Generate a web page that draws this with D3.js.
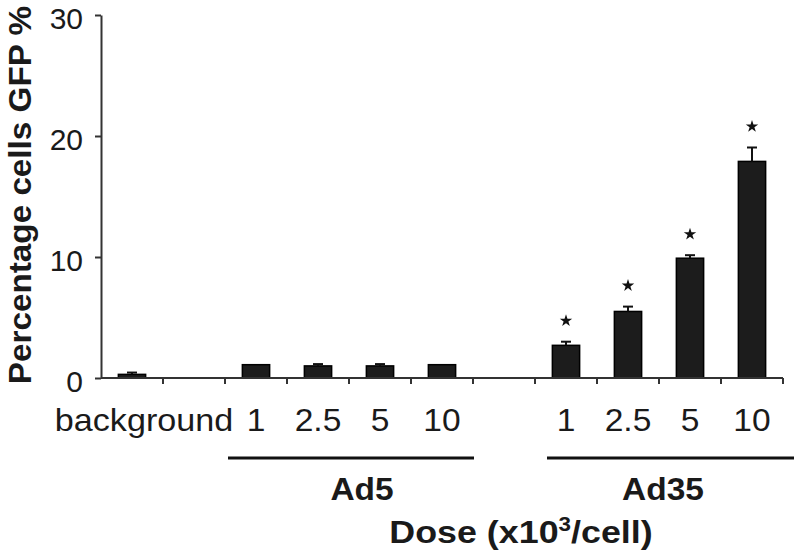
<!DOCTYPE html>
<html>
<head>
<meta charset="utf-8">
<script src="https://cdn.jsdelivr.net/npm/d3@7"></script>
<style>
  body { margin: 0; background: #fff; }
  text { font-family: "Liberation Sans", Arial, Helvetica, sans-serif; fill: #1a1a1a; }
</style>
</head>
<body>
<svg id="chart" width="794" height="554"></svg>
<script>
// slots along the x axis (empty slots separate the groups)
var slots = ["background", "gap1", "Ad5-1", "Ad5-2.5", "Ad5-5", "Ad5-10", "gap2", "Ad35-1", "Ad35-2.5", "Ad35-5", "Ad35-10"];
var slotLabels = ["background", "", "1", "2.5", "5", "10", "", "1", "2.5", "5", "10"];
var values = [0.3, null, 1.1, 1.0, 1.0, 1.1, null, 2.7, 5.5, 9.9, 17.9];
var errors = [0.15, null, 0, 0.15, 0.15, 0, null, 0.3, 0.4, 0.25, 1.15];
var significant = [false, false, false, false, false, false, false, true, true, true, true];
var yTicks = [0, 10, 20, 30];

var groups = [
  {name: "Ad5", first: "Ad5-1", last: "Ad5-10", shift: 13},
  {name: "Ad35", first: "Ad35-1", last: "Ad35-10", shift: 4}
];

var svg = d3.select("#chart");
var stretch = 1.1; // glyphs in the figure are a bit wider than Liberation Sans

var x = d3.scaleBand()
    .domain(slots)
    .range([101, 783])
    .padding(0);

var y = d3.scaleLinear()
    .domain([0, 30])
    .range([378, 15]);

var data = slots.map(function(s, i){
  return {key: s, label: slotLabels[i], v: values[i], err: errors[i], sig: significant[i]};
});
var bars = data.filter(function(d){ return d.v !== null; });
var barW = x.bandwidth() * 0.44;

// bars
svg.selectAll(".bar")
    .data(bars)
  .enter().append("rect")
    .attr("class", "bar")
    .attr("x", function(d){ return x(d.key) + (x.bandwidth() - barW) / 2; })
    .attr("y", function(d){ return y(d.v); })
    .attr("width", barW)
    .attr("height", function(d){ return y(0) - y(d.v); })
    .attr("fill", "#1c1c1c")
    .attr("stroke", "#000")
    .attr("stroke-width", 1.5);

// error bars (upper half only)
var errBars = bars.filter(function(d){ return d.err > 0; });
svg.selectAll(".err")
    .data(errBars)
  .enter().append("line")
    .attr("x1", function(d){ return x(d.key) + x.bandwidth() / 2; })
    .attr("x2", function(d){ return x(d.key) + x.bandwidth() / 2; })
    .attr("y1", function(d){ return y(d.v); })
    .attr("y2", function(d){ return y(d.v + d.err); })
    .attr("stroke", "#111")
    .attr("stroke-width", 2);
svg.selectAll(".cap")
    .data(errBars)
  .enter().append("line")
    .attr("x1", function(d){ return x(d.key) + x.bandwidth() / 2 - 5; })
    .attr("x2", function(d){ return x(d.key) + x.bandwidth() / 2 + 5; })
    .attr("y1", function(d){ return y(d.v + d.err); })
    .attr("y2", function(d){ return y(d.v + d.err); })
    .attr("stroke", "#111")
    .attr("stroke-width", 2);

// significance stars
svg.selectAll(".star")
    .data(bars.filter(function(d){ return d.sig; }))
  .enter().append("path")
    .attr("d", d3.symbol().type(d3.symbolStar).size(48))
    .attr("transform", function(d){
      return "translate(" + (x(d.key) + x.bandwidth() / 2) + "," + (y(d.v + d.err) - 21) + ")";
    })
    .attr("fill", "#111");

// y axis
var yAxis = svg.append("g")
    .attr("transform", "translate(101,0)")
    .call(d3.axisLeft(y).tickValues(yTicks).tickSize(6).tickPadding(12).tickSizeOuter(0));
yAxis.select(".domain").attr("stroke", "#333").attr("stroke-width", 2);
yAxis.selectAll(".tick line").attr("stroke", "#333").attr("stroke-width", 2);
yAxis.selectAll(".tick text")
    .attr("font-size", 30)
    .attr("font-family", "Liberation Sans, Arial, sans-serif")
    .attr("fill", "#1a1a1a")
    .attr("dy", "0.45em");

// x axis line with ticks at every slot boundary
var boundaries = slots.map(function(s){ return x(s) + x.bandwidth(); });
svg.append("line")
    .attr("x1", x.range()[0]).attr("x2", x.range()[1])
    .attr("y1", y(0)).attr("y2", y(0))
    .attr("stroke", "#333").attr("stroke-width", 2);
svg.selectAll(".xtick")
    .data(boundaries)
  .enter().append("line")
    .attr("x1", function(d){ return d; }).attr("x2", function(d){ return d; })
    .attr("y1", y(0)).attr("y2", y(0) + 6)
    .attr("stroke", "#333").attr("stroke-width", 2);

// x tick labels
svg.selectAll(".xlabel")
    .data(data.filter(function(d){ return d.label !== ""; }))
  .enter().append("text")
    .attr("transform", function(d){
      var cx = x(d.key) + x.bandwidth() / 2 + (d.key === "background" ? 12 : 0);
      return "translate(" + cx + ",431) scale(" + (d.key === "background" ? 1.12 : stretch) + ",1)";
    })
    .attr("text-anchor", "middle")
    .attr("font-size", 30.5)
    .text(function(d){ return d.label; });

// group lines + labels
groups.forEach(function(g, i){
  var x1 = x(g.first) + (i === 0 ? 3 : 12);
  var x2 = i === 0 ? x(g.last) + x.bandwidth() + 1 : 794;
  svg.append("line")
      .attr("x1", x1).attr("x2", x2)
      .attr("y1", 458).attr("y2", 458)
      .attr("stroke", "#111").attr("stroke-width", 3);
  var cx = (x(g.first) + x(g.last) + x.bandwidth()) / 2 + g.shift;
  svg.append("text")
      .attr("transform", "translate(" + cx + ",500) scale(1.08,1)")
      .attr("text-anchor", "middle")
      .attr("font-size", 31)
      .attr("font-weight", "bold")
      .text(g.name);
});

// axis titles
var xt = svg.append("text")
    .attr("transform", "translate(521,543) scale(1.12,1)")
    .attr("text-anchor", "middle")
    .attr("font-size", 32)
    .attr("font-weight", "bold");
xt.append("tspan").text("Dose (x10");
xt.append("tspan").attr("font-size", 20).attr("dy", -12).text("3");
xt.append("tspan").attr("dy", 12).text("/cell)");

svg.append("text")
    .attr("transform", "translate(31,195) rotate(-90) scale(1.04,1)")
    .attr("text-anchor", "middle")
    .attr("font-size", 32)
    .attr("font-weight", "bold")
    .text("Percentage cells GFP %");
</script>
</body>
</html>
